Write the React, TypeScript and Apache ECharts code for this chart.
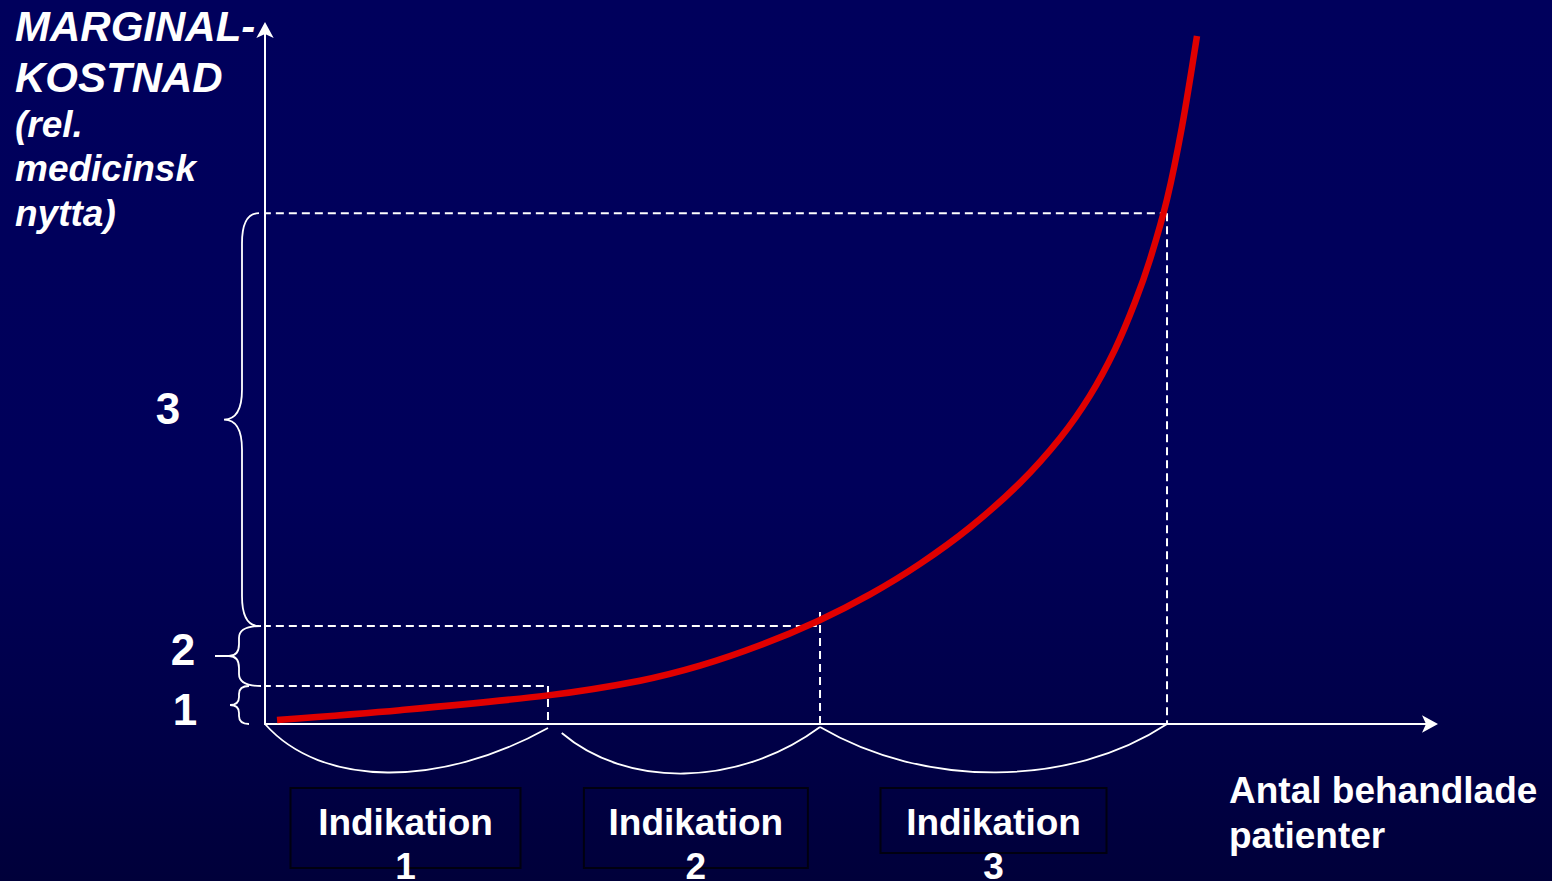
import React, { useEffect, useRef } from "react";
import * as echarts from "echarts";

// ---- data ----
const levelBounds = [0, 5.47, 14.1, 73.5];
const levelLabels = ["1", "2", "3"];
const indicationStarts = [0, 25.45, 47.6];
const indicationEnds = [24.27, 47.6, 77.36];
const indicationLabels = ["Indikation\n1", "Indikation\n2", "Indikation\n3"];
const dashLevels = [5.47, 14.1, 73.5];
const dashEnds = [24.27, 47.6, 77.36];
const dashTops = [5.47, 16.1, 73.5];
const dashLeft = -1.3;
const curveX = [1.03, 11.58, 24.27, 32.16, 37.31, 42.45, 47.43, 51.89, 56.17, 60.46, 64.75, 68.18, 70.75, 72.9, 74.61, 75.9, 77.36, 78.64, 79.93];
const curveY = [0.58, 1.99, 4.12, 6.23, 8.39, 11.32, 14.83, 18.65, 23.04, 28.29, 34.69, 41.11, 47.25, 53.91, 60.68, 66.82, 75.51, 85.9, 99.0];
const yTitleLines = ["MARGINAL-", "KOSTNAD", "(rel.", "medicinsk", "nytta)"];
const xTitleLines = ["Antal behandlade", "patienter"];

// ---- styles ----
const FONT = '"Liberation Sans", Arial, sans-serif';
const braceGeom = [
  { xe: -16, xv: -26, k: 9, xt: -35, r: 8, lx: -80, dy: 5 },
  { xe: -4, xv: -26, k: 10, xt: -50, r: 12, lx: -82, dy: -6 },
  { xe: -6, xv: -23, k: 18, xt: -41, r: 30, lx: -97, dy: -11 },
];
const arcGeom = [
  { y0: 0, y1: 4, boxW: 230, boxH: 80, dx: -1, c1: 0.2, c2: 0.62 },
  { y0: 9, y1: 3, boxW: 224, boxH: 80, dx: 5, c1: 0.25, c2: 0.68 },
  { y0: 3, y1: 0, boxW: 226, boxH: 65, dx: 0, c1: 0.3, c2: 0.72 },
];

export default function App() {
  const ref = useRef<HTMLDivElement>(null);
  useEffect(() => {
    if (!ref.current) return;
    const chart = echarts.init(ref.current, undefined, { renderer: "svg" });

    const dashStyle = { color: "#ffffff", width: 2, type: [8, 5] };
    const dashSeries: any[] = [];
    dashLevels.forEach((lv, i) => {
      dashSeries.push({
        type: "line",
        data: [
          [dashLeft, lv],
          [dashEnds[i], lv],
        ],
        showSymbol: false,
        symbol: "none",
        clip: false,
        silent: true,
        z: 2,
        lineStyle: dashStyle,
      });
      dashSeries.push({
        type: "line",
        data: [
          [dashEnds[i], dashTops[i]],
          [dashEnds[i], 0],
        ],
        showSymbol: false,
        symbol: "none",
        clip: false,
        silent: true,
        z: 2,
        lineStyle: dashStyle,
      });
    });

    const axisCommon = {
      type: "value",
      min: 0,
      max: 100,
      axisLine: {
        show: true,
        symbol: ["none", "arrow"],
        symbolSize: [13, 16],
        symbolOffset: [0, 7],
        lineStyle: { color: "#ffffff", width: 2 },
      },
      axisTick: { show: false },
      axisLabel: { show: false },
      splitLine: { show: false },
    };

    const graphics: any[] = [];
    const titleY = [26, 77, 124, 168, 213];
    yTitleLines.forEach((t, i) => {
      graphics.push({
        type: "text",
        x: 15,
        y: titleY[i],
        style: {
          text: t,
          fill: "#ffffff",
          font: `italic bold ${i < 2 ? 42 : 37}px ${FONT}`,
          verticalAlign: "middle",
          align: "left",
        },
      });
    });
    const xtY = [790, 835];
    xTitleLines.forEach((t, i) => {
      graphics.push({
        type: "text",
        x: 1229,
        y: xtY[i],
        style: {
          text: t,
          fill: "#ffffff",
          font: `bold 37px ${FONT}`,
          verticalAlign: "middle",
          align: "left",
        },
      });
    });

    chart.setOption({
      animation: false,
      backgroundColor: "transparent",
      grid: { left: 265, right: 121, top: 29, bottom: 157, containLabel: false },
      xAxis: axisCommon,
      yAxis: axisCommon,
      graphic: graphics,
      series: [
        ...dashSeries,
        {
          type: "line",
          data: curveX.map((x, i) => [x, curveY[i]]),
          showSymbol: false,
          symbol: "none",
          smooth: 0.3,
          clip: false,
          silent: true,
          z: 5,
          lineStyle: { color: "#E00000", width: 6.5, cap: "butt" },
        },
        {
          type: "custom",
          coordinateSystem: "cartesian2d",
          clip: false,
          silent: true,
          z: 3,
          data: levelLabels.map((_, i) => [0, levelBounds[i], levelBounds[i + 1], i]),
          renderItem: (params: any, api: any) => {
            const i = api.value(3);
            const g = braceGeom[i];
            const pb = api.coord([0, api.value(1)]);
            const pt = api.coord([0, api.value(2)]);
            const ax = pb[0];
            const yb = pb[1];
            const yt = pt[1];
            const ym = (yt + yb) / 2;
            const xe = ax + g.xe;
            const xv = ax + g.xv;
            const xk = xv - g.k;
            const xt = ax + g.xt;
            const r = Math.min(g.r, (yb - yt) / 4);
            const d =
              `M ${xe} ${yt} Q ${xv} ${yt} ${xv} ${yt + r} L ${xv} ${ym - r} ` +
              `Q ${xv} ${ym} ${xk} ${ym} L ${xt} ${ym} M ${xk} ${ym} ` +
              `Q ${xv} ${ym} ${xv} ${ym + r} L ${xv} ${yb - r} Q ${xv} ${yb} ${xe} ${yb}`;
            return {
              type: "group",
              children: [
                {
                  type: "path",
                  shape: { pathData: d },
                  style: { stroke: "#ffffff", fill: "none", lineWidth: 1.8 },
                },
                {
                  type: "text",
                  style: {
                    text: levelLabels[i],
                    x: ax + g.lx,
                    y: ym + g.dy,
                    align: "center",
                    verticalAlign: "middle",
                    font: `bold 44px ${FONT}`,
                    fill: "#ffffff",
                  },
                },
              ],
            };
          },
        },
        {
          type: "custom",
          coordinateSystem: "cartesian2d",
          clip: false,
          silent: true,
          z: 3,
          data: indicationLabels.map((_, i) => [indicationStarts[i], 0, indicationEnds[i], i]),
          renderItem: (params: any, api: any) => {
            const i = api.value(3);
            const g = arcGeom[i];
            const p0 = api.coord([api.value(0), 0]);
            const p1 = api.coord([api.value(2), 0]);
            const x0 = p0[0];
            const x1 = p1[0];
            const base = p0[1];
            const w = x1 - x0;
            const depth = 64;
            const d = `M ${x0} ${base + g.y0} C ${x0 + g.c1 * w} ${base + depth} ${x0 + g.c2 * w} ${base + depth} ${x1} ${base + g.y1}`;
            const cx = (x0 + x1) / 2 + g.dx;
            return {
              type: "group",
              children: [
                {
                  type: "path",
                  shape: { pathData: d },
                  style: { stroke: "#ffffff", fill: "none", lineWidth: 1.8 },
                },
                {
                  type: "rect",
                  shape: { x: cx - g.boxW / 2, y: base + 64, width: g.boxW, height: g.boxH },
                  style: { stroke: "#000010", fill: "none", lineWidth: 2 },
                },
                {
                  type: "text",
                  style: {
                    text: indicationLabels[i],
                    x: cx,
                    y: base + 76,
                    align: "center",
                    verticalAlign: "top",
                    lineHeight: 44,
                    font: `bold 37px ${FONT}`,
                    fill: "#ffffff",
                  },
                },
              ],
            };
          },
        },
      ],
    });
    return () => chart.dispose();
  }, []);

  return (
    <div
      style={{
        position: "absolute",
        left: 0,
        top: 0,
        width: 1552,
        height: 881,
        overflow: "hidden",
        background: "linear-gradient(to bottom, #00005C 0%, #00005A 55%, #00004A 80%, #00003A 100%)",
      }}
    >
      <div ref={ref} style={{ width: 1552, height: 881 }} />
    </div>
  );
}
